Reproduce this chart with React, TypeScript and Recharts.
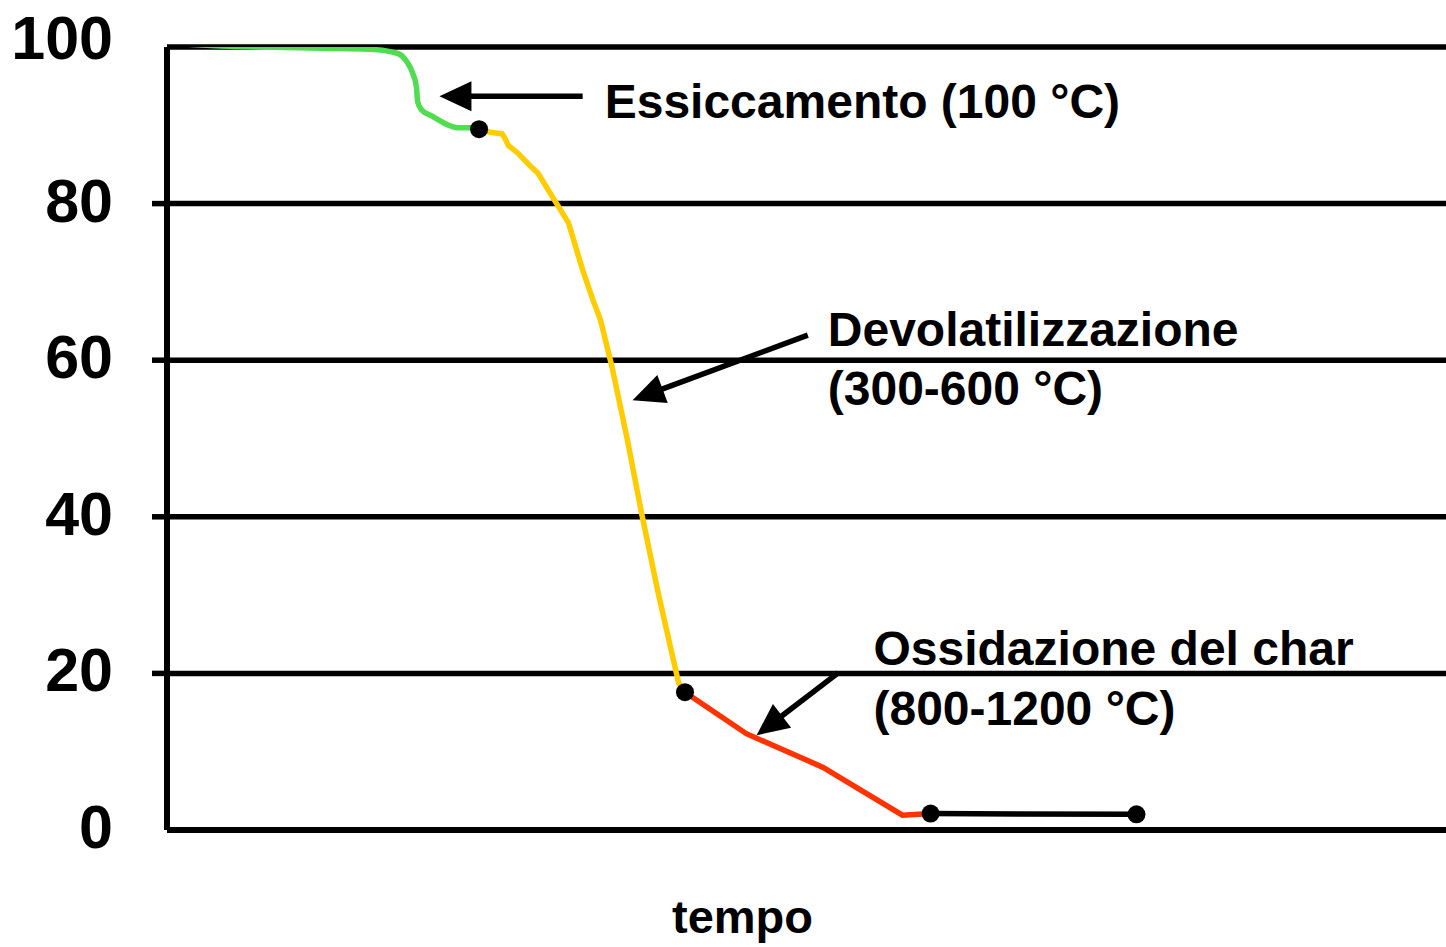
import * as React from "react";
import {
  CartesianGrid,
  ComposedChart,
  Line,
  ReferenceLine,
  Scatter,
  XAxis,
  YAxis,
} from "recharts";

/* ---------- data ---------- */
const yTicks = [0, 20, 40, 60, 80, 100];
const xTitle = "tempo";

// drying (green)
const dryX = [0, 4.9, 10.4, 15.9, 18.0, 18.8, 19.2, 19.5, 19.6, 19.9, 20.7, 22.7, 23.9, 24.4];
const dryY = [100.5, 100.1, 99.9, 99.7, 99.2, 98.0, 96.7, 94.9, 93.0, 92.0, 91.2, 89.7, 89.7, 89.5];

// devolatilization (yellow)
const devolX = [24.4, 25.3, 26.2, 26.4, 26.7, 27.4, 28.4, 29.0, 30.2, 31.4, 32.5, 33.3, 33.9, 34.8, 36.0, 37.1, 38.4, 40.0, 40.5];
const devolY = [89.5, 89.1, 88.9, 88.4, 87.4, 86.5, 84.8, 83.9, 80.7, 77.5, 71.5, 67.7, 65.1, 59.1, 49.8, 40.5, 30.3, 18.8, 17.6];

// char oxidation (red)
const charX = [40.5, 45.3, 51.3, 57.5, 59.7];
const charY = [17.6, 12.3, 8.0, 1.9, 2.1];

// ash (black)
const ashX = [59.7, 75.8];
const ashY = [2.1, 2.0];

// stage boundaries
const knotX = [24.4, 40.5, 59.7, 75.8];
const knotY = [89.5, 17.6, 2.1, 2.0];

// annotations
const noteText = [
  ["Essiccamento (100 °C)"],
  ["Devolatilizzazione", "(300-600 °C)"],
  ["Ossidazione del char", "(800-1200 °C)"],
];
const noteFromX = [32.5, 50.1, 52.5];
const noteFromY = [93.7, 63.2, 20.1];
const noteToX = [21.3, 36.4, 46.1];
const noteToY = [93.7, 54.9, 12.1];

/* ---------- layout ---------- */
const FONT = "'Liberation Sans', Arial, Helvetica, sans-serif";
const noteLayout = [
  { dx: 22, dy: [22] },
  { dx: 20, dy: [11, 70] },
  { dx: 35, dy: [-8, 52] },
];

const pts = (xs: number[], ys: number[]) => xs.map((x, i) => ({ x, y: ys[i] }));

function YTick({ x, y, payload }: any) {
  const v = payload.value;
  return (
    <g>
      {v !== 0 && v !== 100 && (
        <line x1={x + 39} x2={x + 55} y1={y} y2={y} stroke="#000" strokeWidth={5.5} />
      )}
      <text
        x={x}
        y={y}
        dy={v === 100 ? 12 : 18}
        textAnchor="end"
        fontFamily={FONT}
        fontWeight={700}
        fontSize={61}
        fill="#000"
      >
        {v}
      </text>
    </g>
  );
}

function Arrow({ x1, y1, x2, y2, lines, dx, dys }: any) {
  const a = Math.atan2(y2 - y1, x2 - x1);
  const c = Math.cos(a);
  const s = Math.sin(a);
  const L = 32;
  const W = 15;
  const bx = x2 - L * c;
  const by = y2 - L * s;
  const head = `${x2},${y2} ${bx - s * W},${by + c * W} ${bx + s * W},${by - c * W}`;
  return (
    <g>
      <line x1={x1} y1={y1} x2={bx + c * 2} y2={by + s * 2} stroke="#000" strokeWidth={5.5} />
      <polygon points={head} fill="#000" />
      {lines.map((t: string, i: number) => (
        <text key={i} x={x1 + dx} y={y1 + dys[i]} fontFamily={FONT} fontWeight={700} fontSize={48} fill="#000">
          {t}
        </text>
      ))}
    </g>
  );
}

export default function App() {
  const series = [
    { pts: pts(dryX, dryY), color: "#52DC52", type: "monotone" as const },
    { pts: pts(devolX, devolY), color: "#FFCC00", type: "linear" as const },
    { pts: pts(charX, charY), color: "#FF3300", type: "linear" as const },
    { pts: pts(ashX, ashY), color: "#000000", type: "linear" as const },
  ];

  return (
    <div style={{ width: 1446, height: 947, background: "#fff" }}>
      <style>{"body{margin:0;background:#fff}"}</style>
      <ComposedChart width={1446} height={947} margin={{ top: 47, right: 0, bottom: 0, left: 0 }}>
        <CartesianGrid vertical={false} stroke="#000" strokeWidth={5.5} strokeOpacity={1} />
        <XAxis
          type="number"
          dataKey="x"
          domain={[0, 100]}
          allowDataOverflow
          height={117}
          tick={false}
          tickLine={false}
          axisLine={{ stroke: "#000", strokeWidth: 6 }}
          label={{
            content: (p: any) => {
              const vb = p.viewBox || { x: 167, y: 830, width: 1279 };
              return (
                <text
                  x={vb.x + vb.width / 2 - 64}
                  y={vb.y + 103}
                  textAnchor="middle"
                  fontFamily={FONT}
                  fontWeight={700}
                  fontSize={47}
                  fill="#000"
                >
                  {xTitle}
                </text>
              );
            },
          }}
        />
        <YAxis
          type="number"
          domain={[0, 100]}
          allowDataOverflow
          ticks={yTicks}
          width={167}
          tickSize={15}
          tickMargin={39}
          tickLine={false}
          axisLine={{ stroke: "#000", strokeWidth: 6 }}
          tick={<YTick />}
        />
        {series.map((s, i) => (
          <Line
            key={i}
            data={s.pts}
            dataKey="y"
            type={s.type}
            stroke={s.color}
            strokeWidth={5.5}
            dot={false}
            activeDot={false}
            isAnimationActive={false}
          />
        ))}
        {noteText.map((lines, i) => (
          <ReferenceLine
            key={i}
            segment={[
              { x: noteFromX[i], y: noteFromY[i] },
              { x: noteToX[i], y: noteToY[i] },
            ]}
            ifOverflow="visible"
            shape={(p: any) => (
              <Arrow
                x1={p.x1}
                y1={p.y1}
                x2={p.x2}
                y2={p.y2}
                lines={lines}
                dx={noteLayout[i].dx}
                dys={noteLayout[i].dy}
              />
            )}
          />
        ))}
        <Scatter
          data={pts(knotX, knotY)}
          dataKey="y"
          fill="#000"
          isAnimationActive={false}
          shape={(p: any) => <circle cx={p.cx} cy={p.cy} r={9} fill="#000" />}
        />
      </ComposedChart>
    </div>
  );
}
